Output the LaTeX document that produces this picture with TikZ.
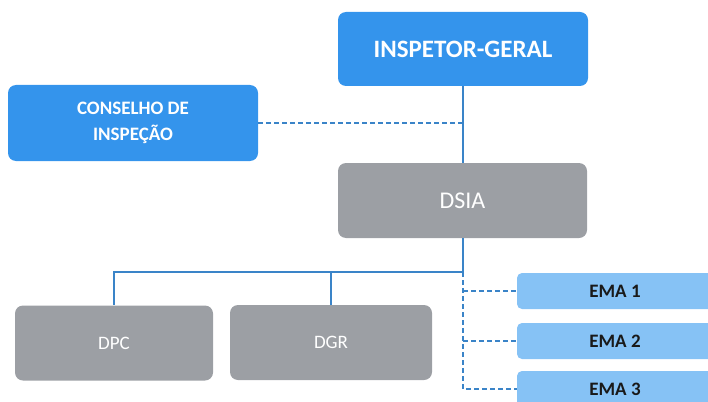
\documentclass[tikz,border=0pt]{standalone}
\usepackage{fontspec}
\setmainfont{Carlito}
\usetikzlibrary{calc}
\usetikzlibrary{positioning}

\definecolor{chefe}{RGB}{52,148,236}
\definecolor{cinza}{RGB}{156,159,164}
\definecolor{claro}{RGB}{134,194,245}
\definecolor{linha}{RGB}{58,132,200}

\begin{document}
\begin{tikzpicture} [x=1pt, y=-1pt,
  caixa/.style={rounded corners=8pt, inner sep=0pt, text=white},
  azul/.style={caixa, fill=chefe, font=\bfseries},
  setor/.style={caixa, fill=cinza, minimum height=75pt},
  ema/.style={caixa, fill=claro, text={black!90}, font=\bfseries\fontsize{19}{22}\selectfont, minimum width=196pt, minimum height=36pt, rounded corners=5pt},
  liga/.style={draw=linha, line width=1.8pt},
  pont/.style={liga, dash pattern=on 5pt off 3pt}]
\useasboundingbox (0,0) rectangle (708,401);

\node[azul, minimum width=250pt, minimum height=74pt, font=\bfseries\fontsize{25}{28}\selectfont] (insp) at (463,49) {INSPETOR-GERAL};
\node[azul, minimum width=250pt, minimum height=76pt, align=center, font=\bfseries\fontsize{19}{26}\selectfont] (cons) at (133,123) {CONSELHO DE\\INSPEÇÃO};
\node[setor, minimum width=249pt, font=\fontsize{24}{28}\selectfont] (dsia) at (462.5,200.5) {DSIA};
\node[setor, minimum width=198pt, font=\fontsize{19}{22}\selectfont] (dpc) at (114,343) {DPC};
\node[setor, minimum width=202pt, font=\fontsize{19}{22}\selectfont] (dgr) at (331,342.5) {DGR};

\foreach \n/\y in {1/291, 2/341, 3/389} \node[ema] (ema\n) at (615,\y) {EMA \n};

\coordinate (hub) at (463,272);

\draw[liga] (insp.south) -- (insp.south |- dsia.north);
\draw[pont] (cons.east) -- (cons.east -| insp.south);
\draw[liga] (dsia.south -| hub) -- (hub) -| (dpc.north);
\draw[liga] (hub -| dgr.north) -- (dgr.north);
\draw[pont] (hub) |- (ema3.west);
\foreach \n in {1, 2} \draw[pont] (hub |- ema\n.west) -- (ema\n.west);

\end{tikzpicture}
\end{document}
